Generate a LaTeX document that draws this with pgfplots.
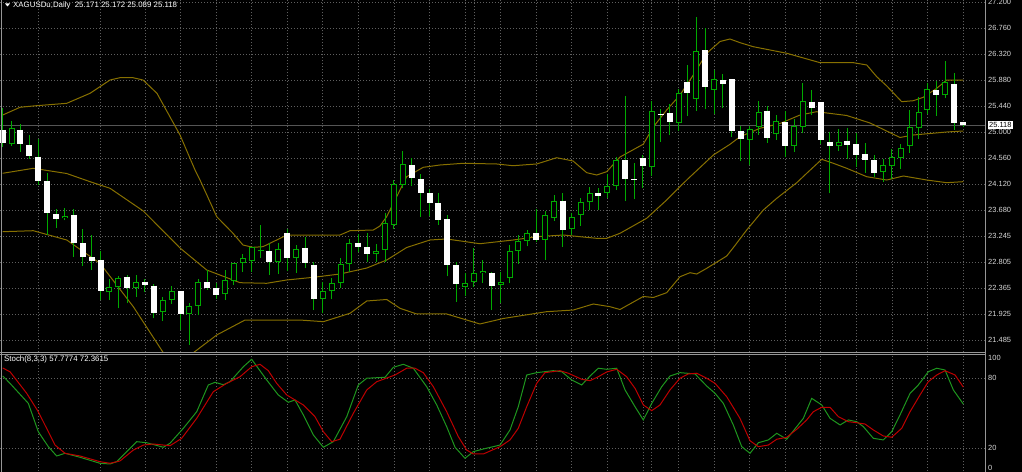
\documentclass[border=0pt]{standalone}
\usepackage{pgfplots}
\usepackage{pgfplotstable}
\pgfplotsset{compat=1.18}
\usepackage{fontspec}
\setmainfont{Liberation Sans}
\definecolor{gridc}{RGB}{95,95,95}
\definecolor{candle}{RGB}{0,170,0}
\definecolor{band}{RGB}{135,112,0}
\definecolor{stochK}{RGB}{30,150,30}
\definecolor{stochD}{RGB}{190,0,0}
\definecolor{lbl}{RGB}{215,215,215}
\definecolor{framec}{RGB}{150,150,150}
\definecolor{bidc}{RGB}{85,85,85}
\newcommand\mtfont{\fontsize{7.5}{9}\selectfont}
\newcommand\hdfont{\fontsize{7.9}{9}\selectfont}

% bear candles (white body)
\pgfplotstableread{
x o h l c
0 25.036 25.408 24.748 24.821
2 25.036 25.142 24.669 24.794
3 24.782 24.956 24.540 24.596
4 24.584 24.879 24.106 24.174
5 24.174 24.314 23.260 23.637
6 23.610 23.700 23.384 23.531
8 23.599 23.705 22.888 23.130
9 23.120 23.362 22.741 22.883
10 22.883 23.266 22.669 22.821
11 22.838 22.990 22.161 22.319
14 22.555 22.589 22.106 22.369
16 22.474 22.516 22.302 22.415
17 22.403 22.432 21.852 21.937
20 22.314 22.319 21.654 21.933
23 22.461 22.669 22.331 22.364
24 22.359 22.444 22.178 22.246
30 22.990 23.117 22.584 22.809
32 23.299 23.362 22.652 22.880
34 23.041 23.232 22.702 22.782
35 22.750 22.809 21.992 22.175
40 23.130 23.269 22.970 23.063
41 23.052 23.289 22.809 22.939
46 24.444 24.557 24.089 24.219
47 24.202 24.292 23.565 23.966
48 23.966 24.033 23.577 23.796
49 23.796 23.966 23.430 23.509
50 23.526 23.599 22.562 22.758
51 22.753 22.809 22.133 22.429
55 22.621 22.640 21.992 22.403
60 23.286 23.695 23.147 23.176
63 23.840 23.976 23.063 23.345
67 23.974 24.050 23.683 23.925
70 24.529 25.606 23.835 24.207
71 24.207 24.483 23.864 24.190
72 24.557 24.613 24.050 24.432
74 25.303 25.386 24.838 25.281
75 25.318 25.470 24.951 25.163
77 25.847 26.130 25.273 25.653
79 26.380 26.755 25.386 25.768
81 25.881 25.983 25.403 25.814
82 25.893 25.900 24.922 25.024
83 25.024 25.103 24.512 24.879
86 25.362 25.442 24.821 24.906
88 25.166 25.357 24.579 24.765
91 25.514 25.712 25.289 25.403
92 25.504 25.509 24.799 24.867
93 24.838 25.007 23.966 24.765
95 24.855 25.075 24.545 24.782
96 24.794 24.980 24.415 24.613
97 24.630 24.824 24.317 24.524
98 24.529 24.613 24.241 24.314
105 25.712 25.864 25.273 25.628
107 25.808 25.994 25.036 25.159
108 25.171 25.172 25.089 25.118
}\bear

% bull candles (hollow body)
\pgfplotstableread{
x o h l c
1 24.794 25.193 24.765 25.065
7 23.543 23.717 23.506 23.587
12 22.292 22.516 22.161 22.373
13 22.373 22.567 22.021 22.528
15 22.359 22.584 22.217 22.474
18 21.953 22.212 21.811 22.161
19 22.161 22.398 22.094 22.314
21 21.920 22.116 21.400 22.065
22 22.063 22.516 21.903 22.461
25 22.258 22.669 22.161 22.500
26 22.491 22.790 22.423 22.782
27 22.782 22.936 22.640 22.866
28 22.821 23.060 22.640 23.052
29 22.982 23.430 22.872 23.000
31 22.809 23.117 22.601 23.019
33 22.877 23.091 22.626 23.029
36 22.173 22.474 21.937 22.309
37 22.309 22.528 22.173 22.454
38 22.444 22.872 22.364 22.765
39 22.765 23.198 22.635 23.120
42 22.934 23.105 22.809 22.998
43 23.012 23.627 22.809 23.463
44 23.430 24.190 23.365 24.128
45 24.114 24.686 24.050 24.456
52 22.386 22.618 22.224 22.444
53 22.461 23.044 22.381 22.626
54 22.613 22.843 22.452 22.648
56 22.407 22.640 22.106 22.462
57 22.528 23.091 22.444 22.995
58 22.990 23.266 22.767 23.167
59 23.162 23.340 23.069 23.289
61 23.176 23.670 22.838 23.599
62 23.553 23.937 23.500 23.835
64 23.362 23.637 23.260 23.573
65 23.595 23.894 23.413 23.815
66 23.813 24.067 23.675 23.966
68 23.976 24.292 23.894 24.084
69 24.089 24.584 24.021 24.529
73 24.405 25.530 24.253 25.360
76 25.154 25.724 25.019 25.656
78 25.568 26.941 25.360 26.375
80 25.717 26.050 25.306 25.898
84 24.867 25.103 24.452 25.058
85 25.081 25.526 24.951 25.340
87 24.963 25.289 24.867 25.188
89 24.765 25.217 24.669 25.103
90 25.092 25.836 24.980 25.526
94 24.765 25.048 24.686 24.838
99 24.331 24.540 24.157 24.444
100 24.427 24.709 24.202 24.584
101 24.567 24.799 24.371 24.736
102 24.770 25.374 24.652 25.081
103 25.065 25.599 24.879 25.345
104 25.374 25.825 25.306 25.724
106 25.623 26.202 25.572 25.842
}\bull

% Bollinger upper band
\pgfplotstableread{
x y
0 25.289
1.95 25.420
3.44 25.442
7.20 25.487
9.82 25.656
12.07 25.881
13.19 25.920
14.65 25.920
15.78 25.881
17.35 25.656
19.94 24.951
21.63 24.359
22.19 24.190
24.07 23.570
25.90 23.289
27.02 23.091
28.15 23.052
29.27 23.063
30.81 23.176
31.94 23.260
33.43 23.260
37.93 23.260
39.06 23.333
41.68 23.345
42.43 23.413
43.18 23.570
44.31 23.908
45.43 24.246
47.30 24.405
49.18 24.444
51.80 24.473
55.56 24.461
57.39 24.432
60.05 24.461
62.30 24.567
64.14 24.512
65.68 24.314
66.80 24.275
67.93 24.331
69.42 24.579
72.04 24.796
73.17 25.087
74.67 25.374
76.17 25.628
77.67 25.966
79.17 26.333
80.67 26.532
81.79 26.574
82.92 26.512
84.41 26.444
88.17 26.333
91.91 26.174
95.66 26.174
97.17 26.135
98.29 25.937
99.42 25.780
101.10 25.514
102.41 25.531
103.53 25.589
105.04 25.741
106.16 25.881
108.03 25.881
}\bbup

% Bollinger middle line
\pgfplotstableread{
x y
0 24.304
3.44 24.388
7.20 24.300
9.82 24.162
12.07 24.050
15.81 23.666
19.94 23.041
22.94 22.669
26.69 22.454
29.69 22.444
31.94 22.500
34.93 22.545
37.93 22.601
40.94 22.702
43.19 22.838
45.43 23.049
48.05 23.176
49.93 23.193
53.66 23.113
57.42 23.176
60.05 23.232
63.05 23.260
66.80 23.204
67.93 23.204
69.42 23.289
72.42 23.543
74.67 23.852
76.92 24.190
79.92 24.613
81.79 24.794
82.92 24.922
85.17 25.065
87.42 25.146
89.66 25.289
91.54 25.345
94.91 25.281
97.54 25.154
100.91 24.909
102.41 24.951
106.16 25.002
108.03 25.019
}\bbmid

% Bollinger lower band
\pgfplotstableread{
x y
0 23.316
3.44 23.333
7.20 23.176
10.94 22.782
14.69 22.048
18.06 21.270
19.71 21.012
21.44 21.270
24.07 21.570
27.25 21.823
29.69 21.823
33.43 21.823
36.06 21.795
39.06 21.937
40.94 22.145
43.19 22.170
44.68 22.021
46.56 21.925
49.93 21.925
53.66 21.756
56.30 21.849
61.18 21.964
64.17 21.992
66.42 22.094
68.30 22.048
69.42 22.001
72.04 22.221
73.17 22.204
74.67 22.285
76.17 22.555
77.29 22.623
78.05 22.601
79.17 22.697
81.42 22.905
82.16 23.046
83.67 23.345
85.54 23.683
87.05 23.881
89.30 24.145
90.42 24.304
92.11 24.540
93.41 24.473
94.92 24.388
97.17 24.246
99.42 24.190
101.29 24.258
103.92 24.190
106.16 24.145
108.03 24.162
}\bblow

% Stochastic main (%K)
\pgfplotstableread{
x y
0 82.0
0.82 75.6
2.88 58.4
4.00 34.0
5.13 21.1
6.07 13.1
7.01 15.4
8.69 12.0
10.94 6.8
12.07 6.2
12.82 8.2
15.07 25.4
16.19 24.5
18.06 20.6
18.81 24.0
20.31 36.9
21.82 51.2
23.12 74.2
23.88 76.5
24.81 74.4
25.56 77.0
27.06 89.9
28.00 96.3
29.69 78.5
30.99 65.6
32.12 59.3
32.87 61.3
33.81 48.4
34.93 31.2
36.06 20.6
37.18 25.4
38.69 46.9
39.99 74.2
40.94 80.0
42.99 80.8
43.93 89.4
45.05 92.0
46.18 88.6
47.68 72.7
48.81 57.0
49.93 38.3
50.87 20.6
51.99 11.1
52.92 16.8
54.05 19.1
55.93 22.5
57.05 35.5
57.98 55.5
58.93 82.8
60.05 84.8
61.92 86.5
62.87 85.6
63.99 78.5
65.11 74.2
66.05 81.9
66.98 88.6
67.93 87.7
69.05 88.6
69.99 69.9
71.11 55.5
72.04 44.1
72.99 58.4
74.11 72.7
75.04 81.9
76.17 84.8
77.86 83.7
79.17 73.3
80.11 67.0
81.04 58.4
82.16 39.8
83.11 21.1
84.04 15.4
84.98 24.5
86.10 26.9
87.05 32.6
88.17 27.5
90.04 45.5
90.98 62.7
92.11 57.0
93.04 45.5
94.17 39.8
95.10 44.1
96.04 42.6
96.79 38.3
97.91 28.3
99.03 26.9
99.98 34.0
100.91 48.4
102.04 67.0
102.97 74.2
104.09 85.6
105.04 88.6
105.97 87.1
106.91 69.9
108.03 57.78
}\stk

% Stochastic signal (%D)
\pgfplotstableread{
x y
0 88.8
0.82 85.6
2.70 67.0
4.00 51.2
5.88 22.5
7.01 15.4
8.69 13.1
10.94 8.2
12.07 6.8
13.19 8.8
14.69 18.2
15.81 22.5
16.94 23.4
18.81 21.9
20.13 28.3
21.82 45.5
23.68 68.4
25.19 75.6
26.69 81.3
28.00 89.9
28.94 92.0
29.87 86.5
30.81 75.6
31.94 65.6
33.81 57.0
35.12 46.9
36.06 34.0
37.00 25.4
37.93 27.5
39.43 49.8
40.94 69.9
42.06 77.0
44.12 82.8
45.43 88.6
46.37 88.6
47.30 84.8
48.43 72.7
49.93 51.2
51.24 29.7
52.18 18.2
52.92 14.8
54.05 14.8
55.93 21.1
57.05 26.9
57.98 36.9
58.93 55.5
60.05 75.6
60.98 84.8
62.67 86.5
63.61 84.3
65.11 79.1
66.05 77.9
66.98 81.3
67.93 85.4
69.05 87.7
70.17 81.3
71.11 71.3
72.04 57.0
72.99 52.1
73.92 57.0
75.04 69.9
76.17 80.0
77.10 83.7
78.05 84.3
79.17 80.0
80.11 75.6
81.42 64.1
82.91 45.5
84.04 26.2
84.98 21.1
86.10 22.5
87.05 27.5
88.17 29.2
89.30 36.1
90.42 44.1
91.16 51.2
92.11 55.0
93.04 55.0
93.98 46.9
95.10 42.6
96.04 41.7
96.97 40.6
97.91 35.5
99.03 30.3
99.98 29.2
101.10 36.9
102.04 51.2
103.16 65.6
104.09 77.0
105.04 82.8
105.97 86.5
107.10 82.8
108.03 72.36
}\std

\pgfplotsset{
  mtaxis/.style={
    scale only axis, width=985bp,
    xmin=-0.304, xmax=110.47,
    axis line style={draw=none},
    major tick length=0pt,
    xtick={4,11,16,20,24,28,32,36,40,44,48,52,53,56,60,64,68,72,73,76,80,84,88,92,96,100,104,108},
    xticklabels={},
    xmajorgrids, ymajorgrids,
    grid style={draw=gridc, line width=0.8bp, dash pattern=on 1bp off 2bp},
    yticklabel pos=right,
    yticklabel style={font=\mtfont, text=lbl, anchor=west, inner sep=0pt, xshift=3bp},
  },
  candlewick/.style={draw=candle, line width=1bp, quiver={u=0, v=\thisrow{h}-\thisrow{l}}},
}

\begin{document}
\begin{tikzpicture}[x=1bp,y=1bp]
\useasboundingbox (0,0) rectangle (1022,472);
\clip (0,0) rectangle (1022,472);
\fill[black] (0,0) rectangle (1022,472);

% ---------- price panel ----------
\begin{axis}[mtaxis,
  at={(0bp,119.5bp)}, anchor=south west, height=352.5bp,
  ymin=21.274, ymax=27.2338,
  ytick={27.2,26.76,26.32,25.88,25.44,25.0,24.56,24.12,23.68,23.245,22.805,22.365,21.925,21.485},
  yticklabels={27.200,26.760,26.320,25.880,25.440,25.000,24.560,24.120,23.680,23.245,22.805,22.365,21.925,21.485},
  extra y ticks={25.118},
  extra y tick labels={25.118},
  extra y tick style={
    major grid style={draw=bidc, line width=1bp, solid},
    yticklabel style={fill=white, text=black, inner sep=1bp, xshift=0bp},
  },
]
\addplot[band, line width=1bp] table {\bbup};
\addplot[band, line width=1bp] table {\bbmid};
\addplot[band, line width=1bp] table {\bblow};

\addplot[candlewick] table[x=x, y=l] {\bear};
\addplot[candlewick] table[x=x, y=l] {\bull};
\addplot[draw=white, line width=6bp, quiver={u=0, v=\thisrow{c}-\thisrow{o}}] table[x=x, y=o] {\bear};
\addplot[draw=candle, line width=6bp, quiver={u=0, v=\thisrow{c}-\thisrow{o}}] table[x=x, y=o] {\bull};
\addplot[draw=black, line width=4bp, quiver={u=0, v={max(\thisrow{c}-\thisrow{o}-0.034,0)}}] table[x=x, y expr=\thisrow{o}+0.017] {\bull};
\end{axis}

% ---------- stochastic panel ----------
\begin{axis}[mtaxis,
  at={(0bp,0.8bp)}, anchor=south west, height=116.2bp,
  ymin=0, ymax=100,
  ytick={20,80}, yticklabels={20,80},
]
\addplot[stochK, line width=1bp] table {\stk};
\addplot[stochD, line width=1bp] table {\std};
\end{axis}

% frames and texts
\draw[framec, line width=1bp] (985.5,0) -- (985.5,472);
\draw[framec, line width=1bp] (0,119.5) -- (985.5,119.5);
\draw[framec, line width=1bp] (0,117) -- (985.5,117);
\draw[framec, line width=1bp] (1,0) -- (1,472);
\node[anchor=north west, inner sep=0pt, font=\mtfont, text=lbl] at (988,116.5) {100};
\node[anchor=south west, inner sep=0pt, font=\mtfont, text=lbl] at (988,1) {0};
\fill[white] (5,468.5) -- (10,468.5) -- (7.5,465.5) -- cycle;
\node[anchor=west, inner sep=0pt, font=\hdfont, text=white] at (13,467) {XAGUSDu,Daily\ \ 25.171 25.172 25.089 25.118};
\node[anchor=west, inner sep=0pt, font=\hdfont, text=white] at (4,112.5) {Stoch(8,3,3) 57.7774 72.3615};
\end{tikzpicture}
\end{document}
